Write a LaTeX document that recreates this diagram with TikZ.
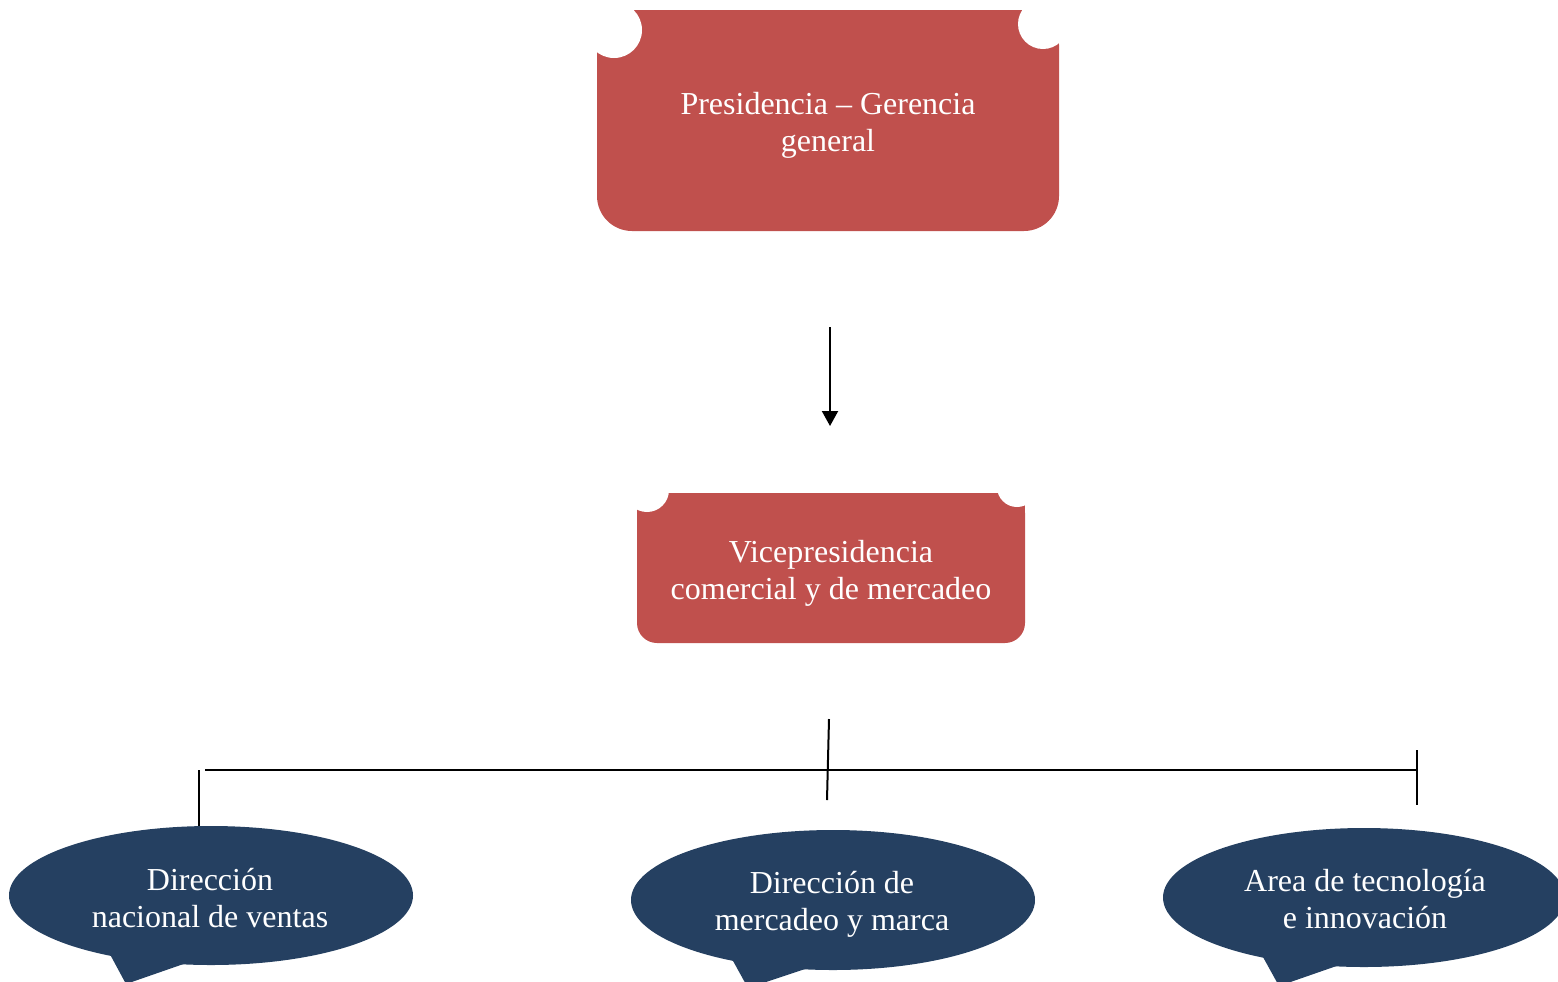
\documentclass[tikz,border=0pt]{standalone}
\usepackage{fontspec}
\setmainfont{Liberation Serif}
\usetikzlibrary{arrows.meta}
\definecolor{boxred}{RGB}{192,80,77}
\definecolor{navy}{RGB}{37,64,97}
\begin{document}
\begin{tikzpicture}[x=0.5pt,y=-0.5pt,
  lbl/.style={text=white, font=\fontsize{16}{18.5}\selectfont, align=center, inner sep=0pt},
  conn/.style={line width=1pt, draw=black},
  notch/.style={fill=white}]
\useasboundingbox (0,0) rectangle (1558,981);
\clip (0,0) rectangle (1558,981);
% --- Box 1: Presidencia
\fill[boxred, rounded corners=17.5pt] (597,10) rectangle (1059,231);
\fill[boxred] (597,10) rectangle (1059,120);
\fill[notch] (614,30) circle[radius=28];
\fill[notch] (1043,24) circle[radius=25];
\node[lbl] (pres) at (828,125) {Presidencia – Gerencia\\general};
% --- Box 2: Vicepresidencia
\fill[boxred, rounded corners=10pt] (637,493) rectangle (1025,643);
\fill[boxred] (637,493) rectangle (1025,560);
\fill[notch] (647,490) circle[radius=22];
\fill[notch] (1017,487) circle[radius=20];
\node[lbl] (vice) at (831,573) {Vicepresidencia\\comercial y de mercadeo};
% --- Callouts
\fill[navy] (211,895.5) ellipse[x radius=202, y radius=69.5];
\fill[navy] (105,945) -- (126,984) -- (195,960) -- cycle;
\node[lbl] (ventas) at (210,898) {Dirección\\nacional de ventas};
\fill[navy] (833,900) ellipse[x radius=202, y radius=70];
\fill[navy] (727,950) -- (748,988) -- (817,965) -- cycle;
\node[lbl] (marca) at (832,904) {Dirección de\\mercadeo y marca};
\fill[navy] (1364,897.5) ellipse[x radius=201, y radius=69.5];
\fill[navy] (1258,948) -- (1279,986) -- (1348,962) -- cycle;
\node[lbl] (tecno) at (1365,899) {Area de tecnología\\e innovación};
% --- Connectors
\coordinate (a1) at (830,327);
\coordinate (a2) at (830,426);
\draw[conn, -{Triangle[length=7.5pt,width=8pt]}] (a1) -- (a2);
\coordinate (hl) at (205,770);
\coordinate (hr) at (1417,770);
\draw[conn] (hl) -- (hr);
\coordinate (l1) at (199,770);
\coordinate (l2) at (199,826);
\draw[conn] (l1) -- (l2);
\coordinate (m1) at (829,719);
\coordinate (m2) at (827,800);
\draw[conn] (m1) -- (m2);
\coordinate (r1) at (1417,750);
\coordinate (r2) at (1417,805);
\draw[conn] (r1) -- (r2);
\end{tikzpicture}
\end{document}
